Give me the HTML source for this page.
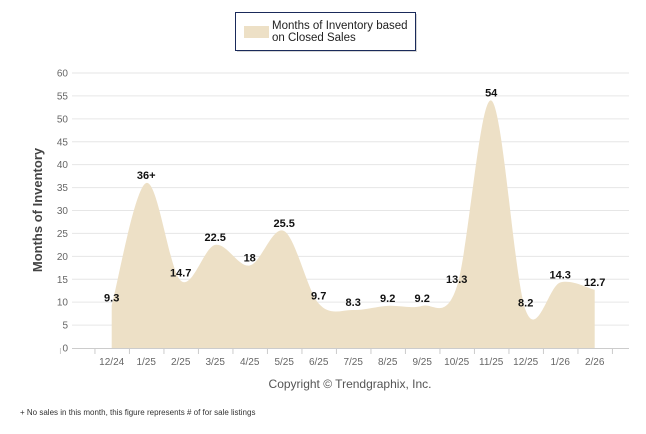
<!DOCTYPE html>
<html><head><meta charset="utf-8"><style>
body{margin:0;background:#fff;}
svg{display:block;font-family:"Liberation Sans",sans-serif;}
</style></head><body>
<svg id="chart" width="646" height="434" viewBox="0 0 646 434">
  <g>
    <rect x="237" y="14" width="180" height="38" fill="#999" opacity="0.4"/>
    <rect x="235.5" y="12.5" width="180" height="38" fill="#fff" stroke="#1a2a5a" stroke-width="1"/>
    <rect x="244" y="26" width="25" height="12" fill="#ede0c6"/>
    <text x="272" y="29" font-size="11.5" fill="#222">Months of Inventory based</text>
    <text x="272" y="41" font-size="11.5" fill="#222">on Closed Sales</text>
  </g>
  <g id="grid"></g>
  <path id="area" fill="#ede0c6"/>
  <g id="axes"></g>
  <g id="labels"></g>
  <text x="0" y="0" transform="translate(42,210) rotate(-90)" text-anchor="middle" font-size="13" font-weight="bold" fill="#444">Months of Inventory</text>
  <text x="350" y="388" text-anchor="middle" font-size="12" fill="#555">Copyright © Trendgraphix, Inc.</text>
  <text x="20" y="415" font-size="8" fill="#333">+ No sales in this month, this figure represents # of for sale listings</text>
</svg>
<script>
const categories=["12/24","1/25","2/25","3/25","4/25","5/25","6/25","7/25","8/25","9/25","10/25","11/25","12/25","1/26","2/26"];
const values=[9.3,36,14.7,22.5,18,25.5,9.7,8.3,9.2,9.2,13.3,54,8.2,14.3,12.7];
const valueLabels=["9.3","36+","14.7","22.5","18","25.5","9.7","8.3","9.2","9.2","13.3","54","8.2","14.3","12.7"];
const yTicks=[0,5,10,15,20,25,30,35,40,45,50,55,60];
const NS="http://www.w3.org/2000/svg";
const x0=111.7,dx=34.5,yBase=348,yTop=73,yMax=60;
function xs(i){return x0+i*dx;}
function ys(v){return yBase-(v/yMax)*(yBase-yTop);}
function mk(tag,attrs,parent,txt){const e=document.createElementNS(NS,tag);for(const k in attrs)e.setAttribute(k,attrs[k]);if(txt!==undefined)e.textContent=txt;parent.appendChild(e);return e;}
const grid=document.getElementById('grid'),axes=document.getElementById('axes'),labels=document.getElementById('labels');
yTicks.forEach(t=>{
  if(t>0){const l=mk('line',{x1:72,x2:629,y1:ys(t),y2:ys(t),stroke:'#e6e6e6','stroke-width':1},grid);
  
  }
  const tx=mk('text',{x:68,y:ys(t)+3.5,'text-anchor':'end','font-size':'10',fill:'#666'},axes,String(t));
  
  
});
const ax=mk('line',{x1:72,x2:629,y1:yBase+0.5,y2:yBase+0.5,stroke:'#ccc','stroke-width':1},axes);


for(let i=-1;i<=categories.length;i++){
  const tk=mk('line',{x1:xs(i)-17.25+0.5,x2:xs(i)-17.25+0.5,y1:yBase,y2:yBase+6,stroke:'#ccc'},axes);
  
  
}
categories.forEach((c,i)=>{
  const t=mk('text',{x:xs(i),y:365,'text-anchor':'middle','font-size':'10',fill:'#666'},axes,c);
  
  
});
// Catmull-Rom area
const P=values.map((v,i)=>[xs(i),ys(v)]);
let d=`M${P[0][0]},${yBase} L${P[0][0]},${P[0][1]}`;
for(let i=0;i<P.length-1;i++){
  const p0=P[i-1]||P[i],p1=P[i],p2=P[i+1],p3=P[i+2]||P[i+1];
  const c1=[p1[0]+(p2[0]-p0[0])/6,p1[1]+(p2[1]-p0[1])/6];
  const c2=[p2[0]-(p3[0]-p1[0])/6,p2[1]-(p3[1]-p1[1])/6];
  d+=` C${c1[0]},${c1[1]} ${c2[0]},${c2[1]} ${p2[0]},${p2[1]}`;
}
d+=` L${P[P.length-1][0]},${yBase} Z`;
document.getElementById('area').setAttribute('d',d);
values.forEach((v,i)=>{
  const t=mk('text',{x:xs(i),y:ys(v)-4,'text-anchor':'middle','font-size':'11','font-weight':'bold',fill:'#111'},labels,valueLabels[i]);
  
  
});
</script>
</body></html>
